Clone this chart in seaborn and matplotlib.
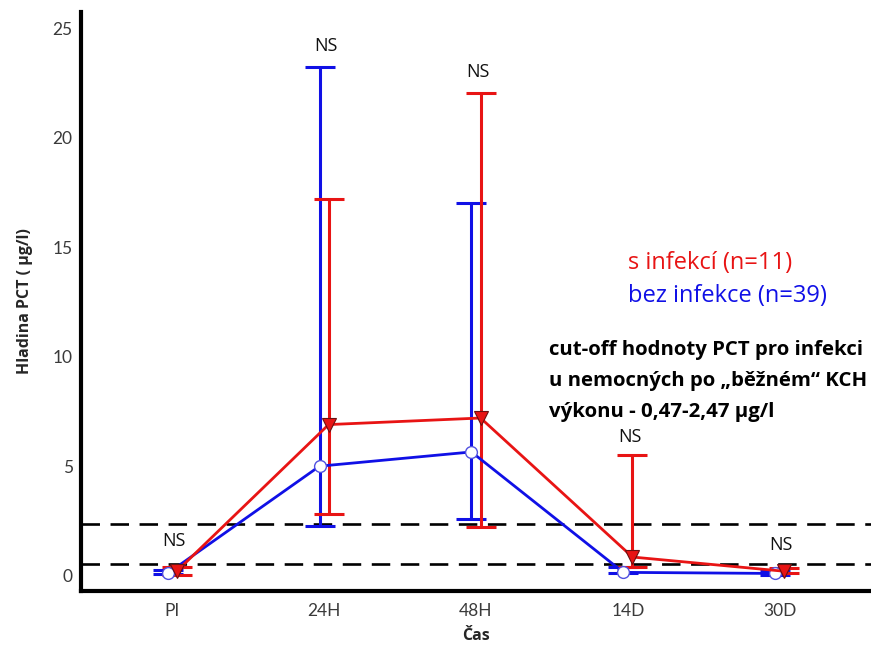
import numpy as np
import pandas as pd
import matplotlib
matplotlib.use('Agg')
import matplotlib.pyplot as plt
import seaborn as sb

# data
casy = ['PI', '24H', '48H', '14D', '30D']
s_inf = [0.2, 6.9, 7.2, 0.85, 0.2]
s_inf_hor = [0.4, 17.2, 22.05, 5.5, 0.35]
s_inf_dol = [0.05, 2.8, 2.2, 0.4, 0.12]
bez_inf = [0.1, 5.0, 5.65, 0.15, 0.1]
bez_inf_hor = [0.27, 23.25, 17.0, 0.38, 0.2]
bez_inf_dol = [0.08, 2.25, 2.6, 0.12, 0.05]
cutoff = [0.55, 2.35]
ns_y = [1.6, 24.2, 23.0, 6.35, 1.4]

sb.set_style('white')
plt.rcParams['font.family'] = ['Lato', 'DejaVu Sans']

fig = plt.figure(figsize=(8.71, 6.47), dpi=100)
ax = fig.add_axes([0.093, 0.0866, 0.907, 0.895])

x = np.arange(len(casy))
df = pd.DataFrame({'x': np.concatenate([x - 0.03, x + 0.03]),
                   'y': bez_inf + s_inf,
                   'skupina': ['bez'] * len(casy) + ['s'] * len(casy)})

for yy in cutoff:
    ax.axhline(yy, color='black', lw=1.9, dashes=(7, 4), zorder=1)

barvy = {'bez': '#1010e6', 's': '#e81414'}
for sk, stred, hor, dol, dx in [('bez', bez_inf, bez_inf_hor, bez_inf_dol, -0.03),
                                ('s', s_inf, s_inf_hor, s_inf_dol, 0.03)]:
    stred = np.array(stred)
    yerr = [stred - np.array(dol), np.array(hor) - stred]
    ax.errorbar(x + dx, stred, yerr=yerr, fmt='none', ecolor=barvy[sk],
                elinewidth=2.2, capsize=11, capthick=2.2, zorder=2)

sb.lineplot(data=df[df['skupina'] == 'bez'], x='x', y='y', color=barvy['bez'], lw=2.0,
            marker='o', markersize=8.5, markerfacecolor='white',
            markeredgecolor='#5050e0', markeredgewidth=1.0, ax=ax, zorder=3)
sb.lineplot(data=df[df['skupina'] == 's'], x='x', y='y', color=barvy['s'], lw=2.0,
            marker='v', markersize=9.5, markerfacecolor=barvy['s'],
            markeredgecolor='#6a1010', markeredgewidth=0.8, ax=ax, zorder=4)

for i, yy in enumerate(ns_y):
    ax.text(x[i] + 0.01, yy, 'NS', ha='center', va='center', fontsize=13,
            family=['Open Sans', 'DejaVu Sans'], color='#111111')

ax.set_xlim(-0.6, 4.6)
ax.set_ylim(-0.7, 25.75)
ax.set_xticks(x)
ax.set_xticklabels(casy)
ax.set_yticks([0, 5, 10, 15, 20, 25])
ax.tick_params(direction='in', length=13, width=3, color='black',
               labelsize=12.5, labelcolor='#3a3a3a', pad=9)
ax.tick_params(axis='y', pad=6)
for s in ['top', 'right']:
    ax.spines[s].set_visible(False)
for s in ['left', 'bottom']:
    ax.spines[s].set_linewidth(3)
    ax.spines[s].set_color('black')

ax.set_xlabel('Čas', fontsize=11.5, fontweight='bold', labelpad=6,
              family=['Open Sans', 'DejaVu Sans'])
ax.set_ylabel('Hladina PCT ( μg/l)', fontsize=11.5, fontweight='bold', labelpad=14,
              family=['Open Sans', 'DejaVu Sans'])

fig.text(0.721, 0.593, 's infekcí (n=11)', color='#e81414', fontsize=17,
         family=['Open Sans', 'DejaVu Sans'], va='center')
fig.text(0.721, 0.542, 'bez infekce (n=39)', color='#1010e6', fontsize=17,
         family=['Open Sans', 'DejaVu Sans'], va='center')
fig.text(0.630, 0.411, 'cut-off hodnoty PCT pro infekci\nu nemocných po „běžném“ KCH\nvýkonu - 0,47-2,47 µg/l',
         color='black', fontsize=14.7, fontweight='bold', linespacing=1.75,
         family=['Open Sans', 'DejaVu Sans'], va='center')

fig.savefig('out.png', dpi=100)
